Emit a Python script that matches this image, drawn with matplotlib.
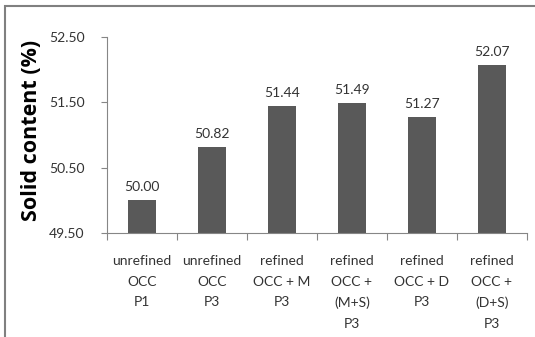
import matplotlib.pyplot as plt
from matplotlib.patches import Rectangle

# solid content for each pulp sample
samples = ["unrefined\nOCC\nP1", "unrefined\nOCC\nP3", "refined\nOCC + M\nP3",
           "refined\nOCC +\n(M+S)\nP3", "refined\nOCC + D\nP3", "refined\nOCC +\n(D+S)\nP3"]
solid = [50.00, 50.82, 51.44, 51.49, 51.27, 52.07]
yticks = [49.50, 50.50, 51.50, 52.50]

plt.rcParams['font.family'] = ['Lato', 'DejaVu Sans']

fig = plt.figure(figsize=(5.35, 3.37), dpi=100)
ax = fig.add_axes([0.2, 0.3086, 0.785, 0.5816])

x = range(len(solid))
bars = ax.bar(x, [v - 49.5 for v in solid], bottom=49.5, width=0.39, color='#595959')
for xi, v in zip(x, solid):
    ax.annotate("{:.2f}".format(v), (xi, v), textcoords="offset points", xytext=(0, 5),
                ha='center', va='bottom', fontsize=10, color='#333333')

ax.set_xlim(-0.5, len(solid) - 0.5)
ax.set_ylim(49.5, 52.5)
ax.set_yticks(yticks)
ax.set_yticklabels(["{:.2f}".format(t) for t in yticks], fontsize=10, color='#333333')
ax.set_xticks([i - 0.5 for i in range(len(solid) + 1)], minor=False)
ax.set_xticklabels([])
ax.set_xticks(list(x), minor=True)
ax.set_xticklabels(samples, minor=True, fontsize=10, color='#333333', linespacing=1.85, va='top')
ax.tick_params(axis='x', which='minor', length=0, pad=16)
ax.tick_params(axis='x', which='major', length=5, color='#868686', direction='out')
ax.tick_params(axis='y', length=4, color='#868686', pad=12)
for s in ['top', 'right']:
    ax.spines[s].set_visible(False)
for s in ['left', 'bottom']:
    ax.spines[s].set_color('#868686')

# y axis title, placed in figure coordinates
fig.text(32 / 535, 1 - 130 / 337, "Solid content (%)", rotation=90, ha='center', va='center',
         fontsize=15.5, fontweight='bold', family='Open Sans', color='black')

# frame of the chart area
fig.patches.append(Rectangle((5 / 535, -0.1), 1.2, 1 - 6 / 337 + 0.1, transform=fig.transFigure,
                             fill=False, edgecolor='#808080', linewidth=1.5))

fig.savefig("out.png", dpi=100)
